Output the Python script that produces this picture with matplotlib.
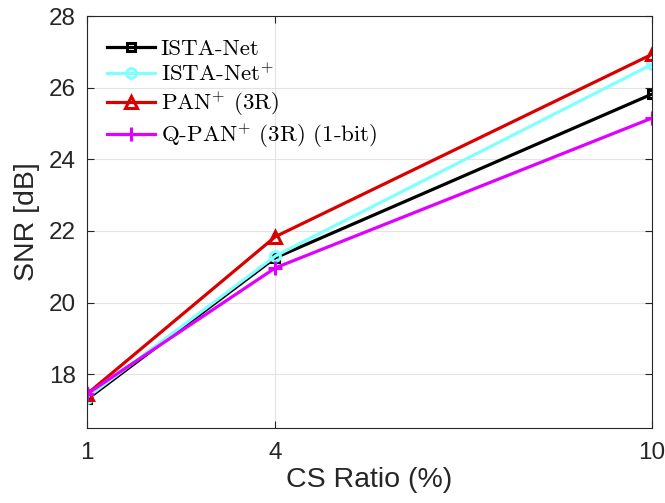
import matplotlib
matplotlib.use("Agg")
import matplotlib.pyplot as plt

cs_ratio = [1, 4, 10]
ista_net = [17.30, 21.25, 25.82]
ista_net_plus = [17.35, 21.30, 26.65]
pan_plus = [17.45, 21.84, 26.93]
qpan_plus = [17.45, 20.97, 25.15]

labels = ["ISTA-Net", "ISTA-Net$^{+}$", "PAN$^{+}$ (3R)", "Q-PAN$^{+}$ (3R) (1-bit)"]
colors = ["#000000", "#80FFFF", "#D90000", "#E000FF"]
markers = ["s", "o", "^", "+"]
msizes = [6, 7, 9, 10]
series = [ista_net, ista_net_plus, pan_plus, qpan_plus]

plt.rcParams["mathtext.fontset"] = "cm"
plt.rcParams["font.family"] = ["Liberation Sans", "DejaVu Sans"]

fig = plt.figure(figsize=(6.65, 5.03), dpi=100)
ax = fig.add_axes([87/665, 1 - 428/503, 565/665, 412/503])

for y, lab, c, m, ms in zip(series, labels, colors, markers, msizes):
    ax.plot(cs_ratio, y, color=c, lw=2.3, marker=m, ms=ms, mew=2.2,
            mfc="none", mec=c, label=lab)

ax.set_xlim(1, 10)
ax.set_ylim(16.5, 28)
ax.set_xticks(cs_ratio)
ax.set_xticklabels([str(v) for v in cs_ratio])
ax.set_yticks([18, 20, 22, 24, 26, 28])
ax.grid(True, color="#e3e3e3", lw=0.8)
ax.set_axisbelow(True)
dark = "#262626"
for s in ax.spines.values():
    s.set_color(dark)
    s.set_linewidth(0.8)
ax.tick_params(direction="in", length=5, width=0.8, colors=dark,
               labelsize=17.5, top=True, right=True, pad=8)
ax.tick_params(axis="x", pad=10)
ax.set_xlabel("CS Ratio (%)", fontsize=20.5, color=dark, labelpad=2)
ax.set_ylabel("SNR [dB]", fontsize=20.5, color=dark, labelpad=6)

leg = ax.legend(loc="upper left", bbox_to_anchor=(0.035, 0.945), frameon=False,
                borderaxespad=0, borderpad=0, handlelength=2.1,
                handletextpad=0.25, labelspacing=0.17,
                prop={"family": "cmr10", "size": 16.5})

fig.savefig("out.png", dpi=100)
